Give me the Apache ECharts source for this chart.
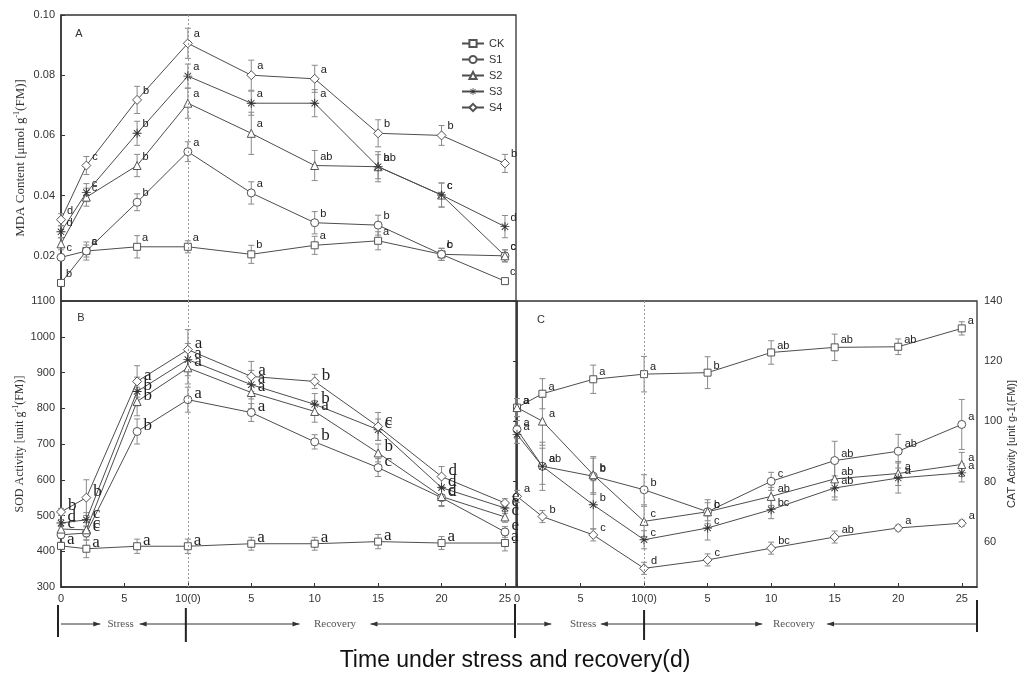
<!DOCTYPE html>
<html><head><meta charset="utf-8">
<script src="https://cdn.jsdelivr.net/npm/echarts@6/dist/echarts.min.js"></script>
<style>html,body{margin:0;padding:0;background:#fff}#c{width:1022px;height:677px}</style>
</head><body><div id="c"></div>
<script>
// ---------- data ----------
const days = [0, 2, 6, 10, 15, 20, 25, 30, 35];
const seriesNames = ['CK', 'S1', 'S2', 'S3', 'S4'];
const xTickValues = [0, 5, 10, 15, 20, 25, 30, 35];
const xTickLabels = ['0', '5', '10(0)', '5', '10', '15', '20', '25'];
const mdaTicks = [0.02, 0.04, 0.06, 0.08, 0.10];
const catTicks = [60, 80, 100, 120, 140];

// Panel A: MDA content
const mdaCK = [0.011, 0.0216, 0.023, 0.023, 0.0205, 0.0235, 0.025, 0.0205, 0.0116];
const mdaS1 = [0.0195, 0.0216, 0.0378, 0.0546, 0.0409, 0.031, 0.0302, 0.0205, 0.020];
const mdaS2 = [0.024, 0.0395, 0.050, 0.0707, 0.0607, 0.050, 0.0496, 0.0402, 0.020];
const mdaS3 = [0.028, 0.041, 0.0607, 0.0797, 0.0707, 0.0707, 0.0496, 0.0402, 0.0297];
const mdaS4 = [0.032, 0.050, 0.0718, 0.0906, 0.080, 0.0788, 0.0607, 0.060, 0.0507];
const mdaErrCK = [0.001, 0.003, 0.0037, 0.002, 0.003, 0.003, 0.003, 0.002, 0.001];
const mdaErrS1 = [0.001, 0.002, 0.0028, 0.0033, 0.0037, 0.0037, 0.0033, 0.002, 0.002];
const mdaErrS2 = [0.002, 0.003, 0.0037, 0.005, 0.007, 0.005, 0.005, 0.004, 0.002];
const mdaErrS3 = [0.002, 0.003, 0.004, 0.004, 0.004, 0.0045, 0.004, 0.004, 0.0037];
const mdaErrS4 = [0.002, 0.003, 0.0045, 0.005, 0.005, 0.0045, 0.0045, 0.0033, 0.003];
const mdaLabCK = ['b', 'a', 'a', 'a', 'b', 'a', 'a', 'c', 'c'];
const mdaLabS1 = ['c', 'c', 'b', 'a', 'a', 'b', 'b', 'b', 'c'];
const mdaLabS2 = ['', 'c', 'b', 'a', 'a', 'ab', 'ab', 'c', 'c'];
const mdaLabS3 = ['d', 'c', 'b', 'a', 'a', 'a', 'b', 'c', 'd'];
const mdaLabS4 = ['d', 'c', 'b', 'a', 'a', 'a', 'b', 'b', 'b'];

// Panel B: SOD activity
const sodCK = [415, 407, 414, 414, 421, 421, 427, 423, 423];
const sodS1 = [446, 451, 735, 824, 788, 706, 634, 550, 454];
const sodS2 = [462, 460, 819, 913, 844, 791, 675, 553, 496];
const sodS3 = [479, 488, 847, 936, 866, 811, 740, 578, 521];
const sodS4 = [510, 550, 875, 964, 889, 875, 749, 609, 535];
const sodErrCK = [10, 25, 20, 20, 18, 18, 20, 18, 22];
const sodErrS1 = [10, 20, 35, 35, 25, 20, 25, 25, 15];
const sodErrS2 = [10, 20, 40, 45, 45, 30, 25, 25, 15];
const sodErrS3 = [10, 20, 40, 45, 40, 30, 30, 25, 15];
const sodErrS4 = [10, 50, 44, 56, 42, 20, 39, 28, 12];
const sodLabCK = ['a', 'a', 'a', 'a', 'a', 'a', 'a', 'a', 'a'];
const sodLabS1 = ['', 'c', 'b', 'a', 'a', 'b', 'c', 'd', 'e'];
const sodLabS2 = ['c', 'c', 'b', 'a', 'a', 'a', 'b', 'c', 'c'];
const sodLabS3 = ['d', 'c', 'b', 'a', 'a', 'b', 'c', 'd', 'e'];
const sodLabS4 = ['b', 'b', 'a', 'a', 'a', 'b', 'c', 'd', 'e'];

// Panel C: CAT activity
const catCK = [104.6, 109.2, 114, 115.7, 116.2, 122.9, 124.6, 124.8, 130.9];
const catS1 = [97.3, 85.1, 81.8, 77.3, 70, 80.1, 87, 90.1, 99];
const catS2 = [104.6, 100.1, 82.3, 66.8, 70, 75.1, 80.9, 82.7, 85.7];
const catS3 = [95.7, 85.1, 72.3, 60.7, 64.6, 70.7, 77.9, 81.2, 82.9];
const catS4 = [75.1, 68.4, 62.3, 51.2, 54, 57.9, 61.6, 64.6, 66.2];
const catErrCK = [3, 5, 4.7, 5.9, 5.3, 3.9, 4.4, 2.6, 2.2];
const catErrS1 = [3, 6, 6, 5, 4, 3, 6.4, 5.6, 8.3];
const catErrS2 = [3, 8, 6, 5, 3, 3, 6, 4, 4];
const catErrS3 = [3, 8, 8, 3, 4, 3, 4, 5, 3];
const catErrS4 = [2, 2, 2, 2, 2, 2, 2, 1, 1];
const catLabCK = ['a', 'a', 'a', 'a', 'b', 'ab', 'ab', 'ab', 'a'];
const catLabS1 = ['a', 'a', 'b', 'b', 'c', 'c', 'ab', 'ab', 'a'];
const catLabS2 = ['a', 'a', 'b', 'c', 'b', 'ab', 'ab', 'a', 'a'];
const catLabS3 = ['a', 'ab', 'b', 'c', 'c', 'bc', 'ab', 'a', 'a'];
const catLabS4 = ['a', 'b', 'c', 'd', 'c', 'bc', 'ab', 'a', 'a'];

// ---------- styling ----------
const SANS = "'Liberation Sans', Arial, sans-serif";
const SERIF = "'Liberation Serif', 'Times New Roman', serif";
const AX = '#333';
const LINE = '#4d4d4d';
const ERR = '#8a8a8a';
const ASTERISK = 'path://M9,0L11,0L11,20L9,20Z M0,9L20,9L20,11L0,11Z M2.2,3.6L3.6,2.2L17.8,16.4L16.4,17.8Z M16.4,2.2L17.8,3.6L3.6,17.8L2.2,16.4Z';
const symbols = {CK: 'rect', S1: 'circle', S2: 'triangle', S3: ASTERISK, S4: 'diamond'};
const symSize = {CK: 7, S1: 8, S2: 8, S3: 9, S4: 9};

const ABMAX = 35.87, CMAX = 36.2;

const panels = [
  {idx: 0, vals: [mdaCK, mdaS1, mdaS2, mdaS3, mdaS4], errs: [mdaErrCK, mdaErrS1, mdaErrS2, mdaErrS3, mdaErrS4],
   labs: [mdaLabCK, mdaLabS1, mdaLabS2, mdaLabS3, mdaLabS4],
   lab: {fontFamily: SANS, fontSize: 11, offset: [-1, -9]}},
  {idx: 1, vals: [sodCK, sodS1, sodS2, sodS3, sodS4], errs: [sodErrCK, sodErrS1, sodErrS2, sodErrS3, sodErrS4],
   labs: [sodLabCK, sodLabS1, sodLabS2, sodLabS3, sodLabS4],
   lab: {fontFamily: SERIF, fontSize: 17, offset: [0, -6]}},
  {idx: 2, vals: [catCK, catS1, catS2, catS3, catS4], errs: [catErrCK, catErrS1, catErrS2, catErrS3, catErrS4],
   labs: [catLabCK, catLabS1, catLabS2, catLabS3, catLabS4],
   lab: {fontFamily: SANS, fontSize: 11, offset: [0, -7]}}
];

function renderErr(params, api) {
  const x = api.value(0), y = api.value(1), e = api.value(2);
  const t = api.coord([x, y + e]), b = api.coord([x, y - e]);
  const w = 3;
  const st = {stroke: ERR, lineWidth: 1};
  return {type: 'group', children: [
    {type: 'line', shape: {x1: t[0], y1: t[1], x2: b[0], y2: b[1]}, style: st},
    {type: 'line', shape: {x1: t[0] - w, y1: t[1], x2: t[0] + w, y2: t[1]}, style: st},
    {type: 'line', shape: {x1: b[0] - w, y1: b[1], x2: b[0] + w, y2: b[1]}, style: st}
  ]};
}

const series = [];
panels.forEach(p => {
  seriesNames.forEach((name, k) => {
    const vals = p.vals[k], errs = p.errs[k], labs = p.labs[k];
    series.push({
      type: 'custom', name: 'err-' + p.idx + '-' + name, xAxisIndex: p.idx, yAxisIndex: p.idx,
      renderItem: renderErr, z: 2, silent: true,
      data: days.map((d, i) => [d, vals[i], errs[i]])
    });
    const s = {
      type: 'line', name: name, xAxisIndex: p.idx, yAxisIndex: p.idx, z: 3,
      data: days.map((d, i) => [d, vals[i]]),
      symbol: symbols[name], symbolSize: symSize[name], showAllSymbol: true,
      lineStyle: {color: LINE, width: 1},
      itemStyle: name === 'S3' ? {color: '#333', borderWidth: 0} : {color: '#fff', borderColor: '#555', borderWidth: 1},
      label: {show: true, position: 'right', distance: 2, offset: p.lab.offset, color: '#222',
              fontFamily: p.lab.fontFamily, fontSize: p.lab.fontSize,
              formatter: q => labs[q.dataIndex]},
      emphasis: {disabled: true}
    };
    if (k === 0) {
      s.markLine = {silent: true, symbol: 'none', label: {show: false},
        lineStyle: {type: [2, 2], color: '#999', width: 1}, data: [{xAxis: 10}]};
    }
    series.push(s);
  });
});

const tickFmt = v => { const i = xTickValues.indexOf(Math.round(v)); return i >= 0 ? xTickLabels[i] : ''; };
const axLine = {show: true, lineStyle: {color: AX, width: 1.5}};
const labStyle = {color: '#333', fontFamily: SANS, fontSize: 11};

const option = {
  animation: false,
  backgroundColor: '#fff',
  grid: [
    {left: 61, top: 15, width: 455, height: 286, show: true, borderColor: AX, borderWidth: 1.3},
    {left: 61, top: 301, width: 455, height: 286, show: true, borderColor: AX, borderWidth: 1.3},
    {left: 517, top: 301, width: 460, height: 286, show: true, borderColor: AX, borderWidth: 1.3}
  ],
  xAxis: [
    {gridIndex: 0, type: 'value', min: 0, max: ABMAX, axisLine: {show: false}, axisTick: {show: false},
     axisLabel: {show: false}, splitLine: {show: false}},
    {gridIndex: 1, type: 'value', min: 0, max: ABMAX, axisLine: axLine,
     axisTick: {show: true, inside: true, length: 4, lineStyle: {color: AX}, customValues: xTickValues},
     axisLabel: Object.assign({customValues: xTickValues, formatter: tickFmt, margin: 6}, labStyle),
     splitLine: {show: false}},
    {gridIndex: 2, type: 'value', min: 0, max: CMAX, axisLine: axLine,
     axisTick: {show: true, inside: true, length: 4, lineStyle: {color: AX}, customValues: xTickValues},
     axisLabel: Object.assign({customValues: xTickValues, formatter: tickFmt, margin: 6}, labStyle),
     splitLine: {show: false}}
  ],
  yAxis: [
    {gridIndex: 0, type: 'value', min: 0.005, max: 0.10, axisLine: axLine,
     axisTick: {show: true, inside: true, length: 4, lineStyle: {color: AX}, customValues: mdaTicks},
     axisLabel: Object.assign({customValues: mdaTicks, formatter: v => v.toFixed(2), margin: 6}, labStyle),
     splitLine: {show: false},
     name: 'MDA Content [μmol g{sup|-1}(FM)]', nameLocation: 'middle', nameGap: 33, nameRotate: 90,
     nameTextStyle: {fontFamily: SERIF, fontSize: 13, color: '#333', rich: {sup: {fontFamily: SERIF, fontSize: 8, padding: [0, 0, 7, 0], color: '#333'}}}},
    {gridIndex: 1, type: 'value', min: 300, max: 1100, interval: 100, axisLine: axLine,
     axisTick: {show: true, inside: true, length: 4, lineStyle: {color: AX}},
     axisLabel: Object.assign({margin: 6, formatter: v => String(Math.round(v))}, labStyle),
     splitLine: {show: false},
     name: 'SOD Activity [unit g{sup|-1}(FM)]', nameLocation: 'middle', nameGap: 34, nameRotate: 90,
     nameTextStyle: {fontFamily: SERIF, fontSize: 12, color: '#333', rich: {sup: {fontFamily: SERIF, fontSize: 8, padding: [0, 0, 7, 0], color: '#333'}}}},
    {gridIndex: 2, type: 'value', position: 'right', min: 45, max: 140, axisLine: axLine,
     axisTick: {show: true, inside: true, length: 4, lineStyle: {color: AX}, customValues: catTicks},
     axisLabel: Object.assign({customValues: catTicks, margin: 7, formatter: v => String(Math.round(v))}, labStyle),
     splitLine: {show: false},
     name: 'CAT Activity [unit g-1(FM)]', nameLocation: 'middle', nameGap: 22, nameRotate: 90,
     nameTextStyle: {fontFamily: SANS, fontSize: 11, color: '#333'}}
  ],
  legend: {
    data: seriesNames, orient: 'vertical', left: 456, top: 33, itemWidth: 22, itemHeight: 9, itemGap: 5,
    textStyle: {fontFamily: SANS, fontSize: 11, color: '#333'}, selectedMode: false
  },
  series: series
};

const chart = echarts.init(document.getElementById('c'), null, {renderer: 'canvas'});
chart.setOption(option);

// ---------- annotations (stress / recovery arrows, panel letters, axis title) ----------
const xB = v => chart.convertToPixel({xAxisIndex: 1}, v);
const xC = v => chart.convertToPixel({xAxisIndex: 2}, v);
const AY = 624;
const g = [];
function bar(x, y1, y2) { g.push({type: 'line', shape: {x1: x, y1: y1, x2: x, y2: y2}, style: {stroke: '#222', lineWidth: 2}}); }
function arrow(x1, x2) { // line from x1 to x2 with head at x2
  g.push({type: 'line', shape: {x1: x1, y1: AY, x2: x2, y2: AY}, style: {stroke: '#333', lineWidth: 1}});
  const d = x2 > x1 ? 1 : -1;
  g.push({type: 'polygon', shape: {points: [[x2, AY], [x2 - d * 7, AY - 2.5], [x2 - d * 7, AY + 2.5]]}, style: {fill: '#333'}});
}
function txt(x, y, s, font, size, color) {
  g.push({type: 'text', x: x, y: y, style: {text: s, font: size + 'px ' + font, fill: color || '#444', align: 'center', verticalAlign: 'middle'}});
}
const segs = [
  {a: xB(0), b: xB(10), h1: xB(3.1), h2: xB(6.2), t: xB(4.7), s: 'Stress'},
  {a: xB(10), b: xB(ABMAX), h1: xB(18.8), h2: xB(24.4), t: xB(21.6), s: 'Recovery'},
  {a: xC(0), b: xC(10), h1: xC(2.7), h2: xC(6.6), t: xC(5.2), s: 'Stress'},
  {a: xC(10), b: xC(CMAX), h1: xC(19.3), h2: xC(24.4), t: xC(21.8), s: 'Recovery'}
];
segs.forEach(sg => { arrow(sg.a, sg.h1); arrow(sg.b, sg.h2); txt(sg.t, AY, sg.s, SERIF, 11, '#555'); });
bar(xB(0) - 3, 605, 637); bar(xB(10) - 2, 608, 642); bar(xB(ABMAX) - 1, 604, 638); bar(xC(10), 610, 640); bar(xC(CMAX), 600, 632);
txt(79, 34, 'A', SANS, 11, '#333');
txt(81, 318, 'B', SANS, 11, '#333');
txt(541, 320, 'C', SANS, 11, '#333');
txt(515, 661, 'Time under stress and recovery(d)', SANS, 23, '#111');
chart.setOption({graphic: {elements: g}});
</script></body></html>
